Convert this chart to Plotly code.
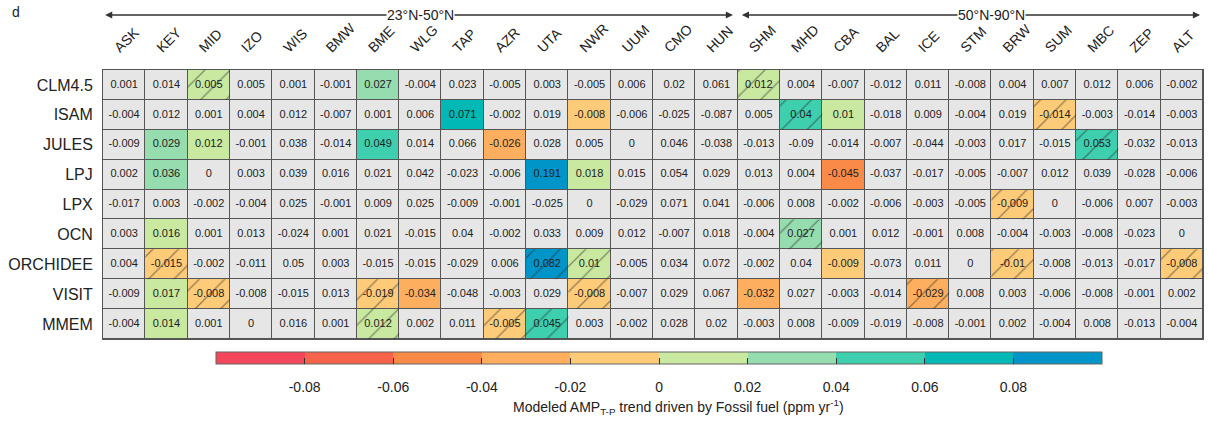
import plotly.graph_objects as go

sites = ["ASK", "KEY", "MID", "IZO", "WIS", "BMW", "BME", "WLG", "TAP", "AZR", "UTA", "NWR", "UUM",
         "CMO", "HUN", "SHM", "MHD", "CBA", "BAL", "ICE", "STM", "BRW", "SUM", "MBC", "ZEP", "ALT"]
models = ["CLM4.5", "ISAM", "JULES", "LPJ", "LPX", "OCN", "ORCHIDEE", "VISIT", "MMEM"]

clm45 = [0.001, 0.014, 0.005, 0.005, 0.001, -0.001, 0.027, -0.004, 0.023, -0.005, 0.003, -0.005, 0.006,
         0.02, 0.061, 0.012, 0.004, -0.007, -0.012, 0.011, -0.008, 0.004, 0.007, 0.012, 0.006, -0.002]
isam = [-0.004, 0.012, 0.001, 0.004, 0.012, -0.007, 0.001, 0.006, 0.071, -0.002, 0.019, -0.008, -0.006,
        -0.025, -0.087, 0.005, 0.04, 0.01, -0.018, 0.009, -0.004, 0.019, -0.014, -0.003, -0.014, -0.003]
jules = [-0.009, 0.029, 0.012, -0.001, 0.038, -0.014, 0.049, 0.014, 0.066, -0.026, 0.028, 0.005, 0,
         0.046, -0.038, -0.013, -0.09, -0.014, -0.007, -0.044, -0.003, 0.017, -0.015, 0.053, -0.032, -0.013]
lpj = [0.002, 0.036, 0, 0.003, 0.039, 0.016, 0.021, 0.042, -0.023, -0.006, 0.191, 0.018, 0.015,
       0.054, 0.029, 0.013, 0.004, -0.045, -0.037, -0.017, -0.005, -0.007, 0.012, 0.039, -0.028, -0.006]
lpx = [-0.017, 0.003, -0.002, -0.004, 0.025, -0.001, 0.009, 0.025, -0.009, -0.001, -0.025, 0, -0.029,
       0.071, 0.041, -0.006, 0.008, -0.002, -0.006, -0.003, -0.005, -0.009, 0, -0.006, 0.007, -0.003]
ocn = [0.003, 0.016, 0.001, 0.013, -0.024, 0.001, 0.021, -0.015, 0.04, -0.002, 0.033, 0.009, 0.012,
       -0.007, 0.018, -0.004, 0.027, 0.001, 0.012, -0.001, 0.008, -0.004, -0.003, -0.008, -0.023, 0]
orchidee = [0.004, -0.015, -0.002, -0.011, 0.05, 0.003, -0.015, -0.015, -0.029, 0.006, 0.082, 0.01, -0.005,
            0.034, 0.072, -0.002, 0.04, -0.009, -0.073, 0.011, 0, -0.01, -0.008, -0.013, -0.017, -0.008]
visit = [-0.009, 0.017, -0.008, -0.008, -0.015, 0.013, -0.019, -0.034, -0.048, -0.003, 0.029, -0.008, -0.007,
         0.029, 0.067, -0.032, 0.027, -0.003, -0.014, -0.029, 0.008, 0.003, -0.006, -0.008, -0.001, 0.002]
mmem = [-0.004, 0.014, 0.001, 0, 0.016, 0.001, 0.012, 0.002, 0.011, -0.005, 0.045, 0.003, -0.002,
        0.028, 0.02, -0.003, 0.008, -0.009, -0.019, -0.008, -0.001, 0.002, -0.004, 0.008, -0.013, -0.004]

values = [clm45, isam, jules, lpj, lpx, ocn, orchidee, visit, mmem]

# cells shown in colour (significant), per model
colored = {
    "CLM4.5": ["BME"],
    "ISAM": ["TAP", "NWR", "CBA"],
    "JULES": ["KEY", "MID", "BME", "AZR"],
    "LPJ": ["KEY", "UTA", "NWR", "CBA"],
    "LPX": [],
    "OCN": ["KEY"],
    "ORCHIDEE": ["CBA"],
    "VISIT": ["KEY", "WLG", "SHM"],
    "MMEM": ["KEY"],
}
# cells shown in colour and hatched
hatched = {
    "CLM4.5": ["MID", "SHM"],
    "ISAM": ["MHD", "SUM"],
    "JULES": ["MBC"],
    "LPJ": [],
    "LPX": ["BRW"],
    "OCN": ["MHD"],
    "ORCHIDEE": ["KEY", "UTA", "NWR", "BRW", "ALT"],
    "VISIT": ["MID", "BME", "NWR", "ICE"],
    "MMEM": ["BME", "AZR", "UTA"],
}

cbar_ticks = [-0.08, -0.06, -0.04, -0.02, 0, 0.02, 0.04, 0.06, 0.08]
bin_colors = ["#F4475B", "#F7634A", "#FA8A48", "#FDAF5F", "#FECB78",
              "#C9E8A0", "#95DCAE", "#3DCFAE", "#00B8B5", "#0095C8"]


def fmt(v):
    s = f"{v:.3f}".rstrip("0").rstrip(".")
    return "0" if s in ("-0", "") else s


nx, ny = len(sites), len(models)
xs = list(range(nx))
ys = list(range(ny))

zcol = []
for r, m in enumerate(models):
    row = []
    for c, s in enumerate(sites):
        if s in colored[m] or s in hatched[m]:
            row.append(values[r][c])
        else:
            row.append(None)
    zcol.append(row)

# discrete colourscale
cs = []
n = len(bin_colors)
for i, col in enumerate(bin_colors):
    cs.append([i / n, col])
    cs.append([(i + 1) / n, col])

FONT = "Liberation Sans, Arial, sans-serif"
CB = dict(orientation="h", thickness=12, len=886, lenmode="pixels",
          x=0.5055, xanchor="center", y=-0.048, yanchor="top", ypad=0, xpad=0)

fig = go.Figure()

fig.add_trace(go.Heatmap(
    x=xs, y=ys, z=[[1] * nx for _ in models],
    colorscale=[[0, "#E6E6E6"], [1, "#E6E6E6"]], showscale=False,
    xgap=1, ygap=1, hoverinfo="skip"))

fig.add_trace(go.Heatmap(
    x=xs, y=ys, z=zcol, colorscale=cs, zmin=-0.1, zmax=0.1,
    xgap=1, ygap=1, hoverinfo="skip",
    colorbar=dict(
        **CB,
        outlinecolor="#666", outlinewidth=1,
        tickvals=cbar_ticks, ticktext=[fmt(t) for t in cbar_ticks],
        ticks="outside", ticklen=11, tickcolor="rgba(0,0,0,0)",
        tickfont=dict(family=FONT, size=14, color="#222"),
    )))

# transparent overlay colourbar carrying only the bin dividers
fig.add_trace(go.Heatmap(
    x=[0], y=[0], z=[[0]], zmin=-0.1, zmax=0.1,
    colorscale=[[0, "rgba(0,0,0,0)"], [1, "rgba(0,0,0,0)"]],
    hoverinfo="skip", xgap=1, ygap=1,
    colorbar=dict(**CB, outlinewidth=0, tickvals=cbar_ticks, showticklabels=False,
                  ticks="inside", ticklen=6, tickcolor="#333", tickwidth=1)))

hx, hb = [], []
for r, m in enumerate(models):
    for s in hatched[m]:
        hx.append(sites.index(s))
        hb.append(r - 0.5)
fig.add_trace(go.Bar(
    x=hx, y=[1] * len(hx), base=hb, width=1,
    marker=dict(color="rgba(0,0,0,0)", line=dict(width=0),
                pattern=dict(shape="/", fgcolor="#2a2a2a", bgcolor="rgba(0,0,0,0)",
                             size=18, solidity=0.07, fillmode="overlay")),
    hoverinfo="skip", showlegend=False))

tx, ty, tt = [], [], []
for r in ys:
    for c in xs:
        tx.append(c)
        ty.append(r)
        tt.append(fmt(values[r][c]))
fig.add_trace(go.Scatter(
    x=tx, y=ty, text=tt, mode="text",
    textfont=dict(family=FONT, size=11, color="#222"),
    hoverinfo="skip", showlegend=False))

ann = []
ARW_Y = 1.2045
for tail, tip in [(7, -0.45), (7, 14.39), (20.5, 14.60), (20.5, 25.43)]:
    ann.append(dict(x=tip, y=ARW_Y, xref="x", yref="paper", ax=tail, ay=0,
                    axref="x", ayref="pixel", text="", showarrow=True,
                    arrowhead=2, arrowsize=1.1, arrowwidth=1.3, arrowcolor="#333"))
ann.append(dict(x=7, y=ARW_Y, xref="x", yref="paper", text="23°N-50°N", showarrow=False,
                xanchor="center", yanchor="middle",
                bgcolor="white", borderpad=0, font=dict(family=FONT, size=14, color="#222")))
ann.append(dict(x=20.5, y=ARW_Y, xref="x", yref="paper", text="50°N-90°N", showarrow=False,
                xanchor="center", yanchor="middle",
                bgcolor="white", borderpad=0, font=dict(family=FONT, size=14, color="#222")))
ann.append(dict(x=-0.0845, y=1.2156, xref="paper", yref="paper", text="d", showarrow=False,
                xanchor="left", yanchor="middle", font=dict(family=FONT, size=14, color="#222")))
ann.append(dict(x=0.5236, y=-0.2528, xref="paper", yref="paper",
                text="Modeled AMP<sub>T-P</sub> trend driven by Fossil fuel (ppm yr<sup>-1</sup>)",
                xanchor="center", yanchor="middle",
                showarrow=False, font=dict(family=FONT, size=14, color="#222")))

fig.update_layout(
    width=1208, height=423,
    margin=dict(l=103, r=5, t=70, b=84),
    paper_bgcolor="white", plot_bgcolor="#555",
    barmode="overlay", showlegend=False,
    font=dict(family=FONT, color="#222"),
    annotations=ann,
    xaxis=dict(range=[-0.5, nx - 0.5], side="top", tickvals=xs, ticktext=sites,
               tickangle=-45, showgrid=False, zeroline=False, ticks="",
               ticklabelstandoff=8, ticklabelshift=-9, automargin=False,
               showline=True, mirror=True, linecolor="#555", linewidth=1,
               tickfont=dict(family=FONT, size=14, color="#222")),
    yaxis=dict(range=[ny - 0.5, -0.5], tickvals=ys, ticktext=models,
               showgrid=False, zeroline=False, ticks="", ticklabelstandoff=6, automargin=False,
               showline=True, mirror=True, linecolor="#555", linewidth=1,
               tickfont=dict(family=FONT, size=16, color="#222")),
)

fig.write_html("out.html", config={"displayModeBar": False},
               post_script="document.body.style.margin='0';")
